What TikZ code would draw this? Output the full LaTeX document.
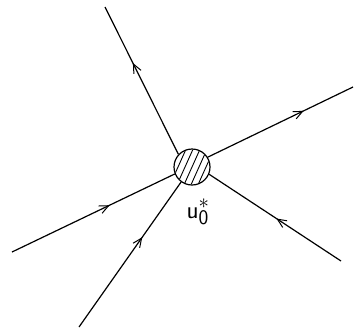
\documentclass[tikz,border=0pt]{standalone}
\usetikzlibrary{arrows.meta,decorations.markings}
\begin{document}
\begin{tikzpicture}[x=1pt,y=-1pt,line width=1.2pt,
  ray/.style={draw,postaction={decorate},decoration={markings,mark=at position #1 with {\arrow{Straight Barb[length=9pt,width=8pt,line width=1pt]}}}},
  hub/.style={circle,draw,line width=1.2pt,minimum size=36pt,inner sep=0pt},
  hatch/.style={line width=0.9pt}]
\useasboundingbox (0,0) rectangle (355,333);
\node[hub] (c) at (192,167) {};
\begin{scope}
  \clip (192,167) circle (17.5pt);
  \foreach \i in {-2,...,2} \draw[hatch] ({192+\i*7-9},187) -- ++(18,-40);
\end{scope}
\coordinate (p1) at (105,7);
\coordinate (p2) at (353,87);
\coordinate (p3) at (12,252);
\coordinate (p4) at (79,327);
\coordinate (p5) at (341,261);
\draw[ray=0.62] (c.137) -- (p1);
\draw[ray=0.66] (c.32) -- (p2);
\draw[ray=0.6] (p3) -- (c.202);
\draw[ray=0.62] (p4) -- (c.234);
\draw[ray=0.49] (p5) -- (c.337);
\node[anchor=base west,inner sep=0pt,font=\fontsize{31}{31}\selectfont] (lbl) at (186,218) {$\mathsf{u}_{\mathsf{0}}^{*}$};
\end{tikzpicture}
\end{document}
